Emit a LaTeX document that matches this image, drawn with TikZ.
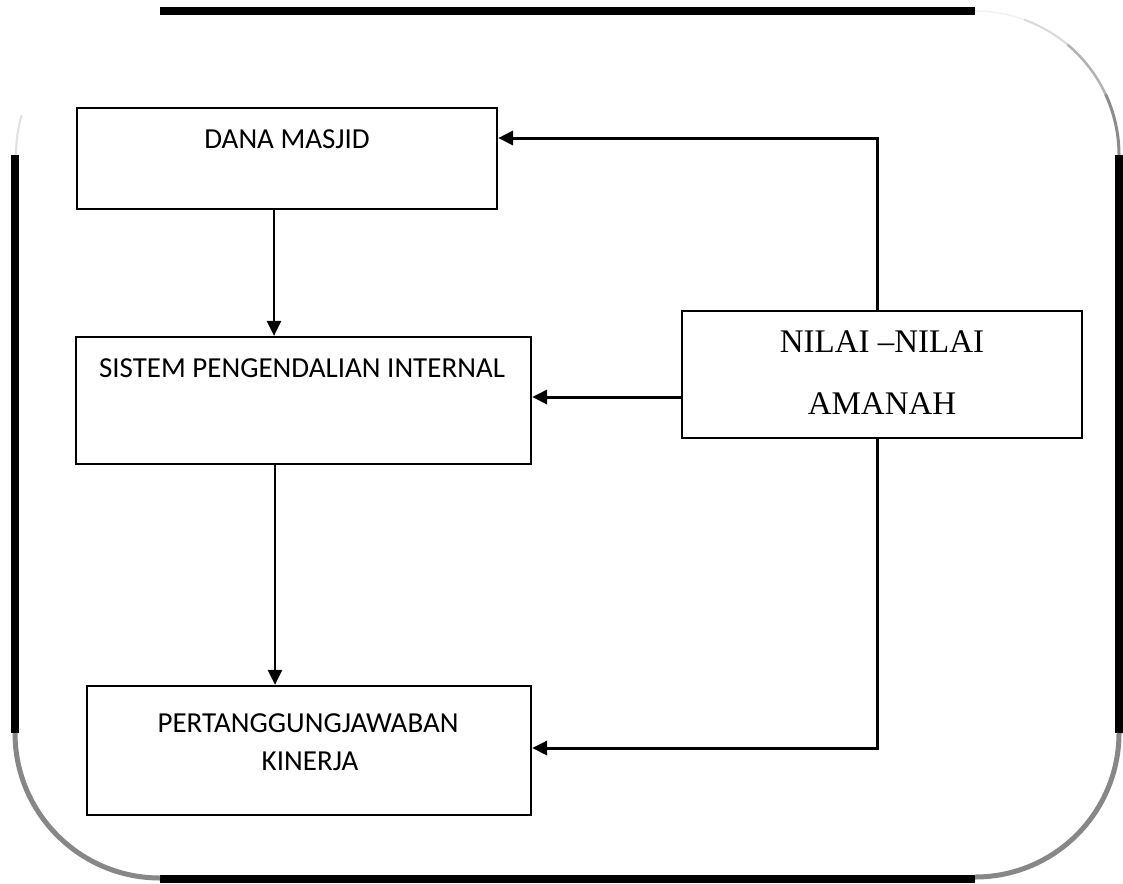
\documentclass[tikz,border=0pt]{standalone}
\usepackage{fontspec}
\setmainfont{Carlito}
\newfontfamily\serifface{Liberation Serif}
\usetikzlibrary{arrows.meta,calc}
\tikzset{
  boxnode/.style={draw=black, line width=2.2pt, rectangle, inner sep=0pt},
  lbl/.style={anchor=base, inner sep=0pt, font=\fontsize{29}{38}\selectfont},
  serlbl/.style={anchor=base, inner sep=0pt, font=\serifface\fontsize{33}{40}\selectfont},
  arr/.style={line width=2.6pt, -{Triangle[length=15pt,width=14pt]}},
  harr/.style={line width=3pt, line join=miter, -{Triangle[length=15pt,width=14pt]}},
  framebar/.style={fill=black},
  framearc/.style={line width=5pt, color=black!47, line cap=butt}
}
\begin{document}
\begin{tikzpicture}[x=1pt,y=-1pt]
\useasboundingbox (0,0) rectangle (1123,883);
\fill[white] (0,0) rectangle (1123,883);
% frame
\fill[framebar] (160,7) rectangle (975,15);
\fill[framebar] (160,875) rectangle (975,883);
\fill[framebar] (11,155) rectangle (19,733);
\fill[framebar] (1115,155) rectangle (1123,733);
\draw[framearc] (15,733) arc[start angle=180, end angle=90, radius=145];
\draw[framearc] (1119,733) arc[start angle=0, end angle=90, radius=144];
% faint top-right arc
\draw[line width=1.5pt, color=black!5] (975,11) arc[start angle=-90, end angle=-70, radius=144];
\draw[line width=2pt, color=black!15] ($(975,155)+(-70:144)$) arc[start angle=-70, end angle=-50, radius=144];
\draw[line width=2.5pt, color=black!30] ($(975,155)+(-50:144)$) arc[start angle=-50, end angle=-25, radius=144];
\draw[line width=3pt, color=black!45] ($(975,155)+(-25:144)$) arc[start angle=-25, end angle=0, radius=144];
% faint top-left arc piece
\draw[line width=2pt, color=black!12] ($(160,155)+(-164:144)$) arc[start angle=-164, end angle=-180, radius=144];
% boxes
\node[boxnode, minimum width=420pt, minimum height=101pt] (dana) at (287,158.5) {};
\node[boxnode, minimum width=455pt, minimum height=127pt] (spi) at (303.5,400.5) {};
\node[boxnode, minimum width=444pt, minimum height=129pt] (pk) at (309,750.5) {};
\node[boxnode, minimum width=400pt, minimum height=127pt] (nilai) at (882,374.5) {};
% texts
\node[lbl] (tdana) at (287,148) {DANA MASJID};
\node[lbl] (tspi) at (302,377) {SISTEM PENGENDALIAN INTERNAL};
\node[lbl] (tpk1) at (308,732) {PERTANGGUNGJAWABAN};
\node[lbl] (tpk2) at (310,770) {KINERJA};
\node[serlbl] (tn1) at (882,352) {NILAI –NILAI};
\node[serlbl] (tn2) at (882,414) {AMANAH};
% helper coordinates
\coordinate (xa) at (274,0);
\coordinate (xb) at (275,0);
\coordinate (xv) at (877,0);
\coordinate (ya) at (0,138);
\coordinate (yb) at (0,397);
\coordinate (yc) at (0,748);
% connectors
\draw[arr] (dana.south -| xa) -- (spi.north -| xa);
\draw[arr] (spi.south -| xb) -- (pk.north -| xb);
\draw[harr] (nilai.north -| xv) |- (dana.east |- ya);
\draw[harr] (nilai.west |- yb) -- (spi.east |- yb);
\draw[harr] (nilai.south -| xv) |- (pk.east |- yc);
\end{tikzpicture}
\end{document}
